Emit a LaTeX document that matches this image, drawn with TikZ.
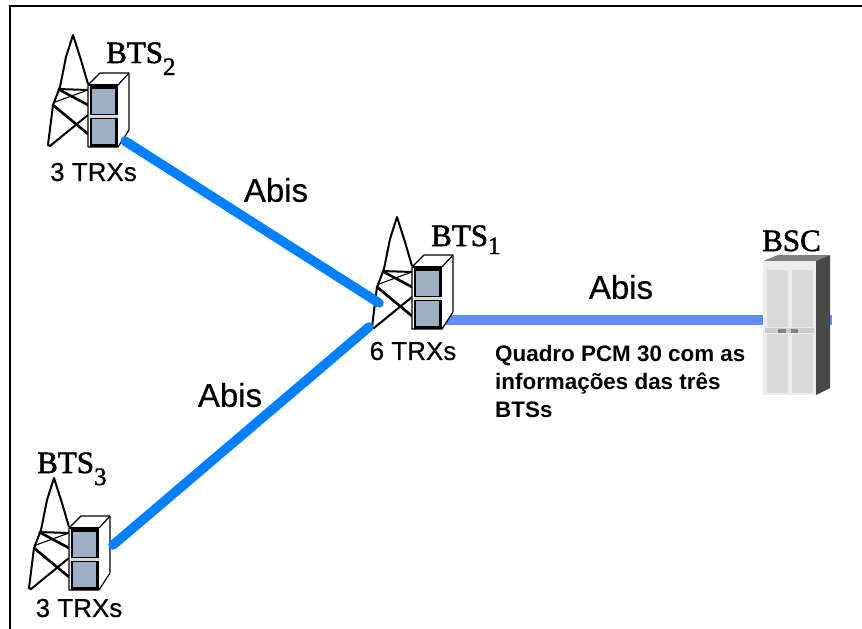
\documentclass[tikz,border=0pt]{standalone}
\usepackage{fontspec}
\setmainfont{Liberation Sans}
\newfontfamily\serifbts[FakeBold=1.6]{Liberation Serif}
\newfontfamily\sanssemi[FakeBold=0.4]{Liberation Sans}
\newcommand{\btssub}[2]{\raisebox{-#1pt}{\fontsize{25}{25}\selectfont #2}}
\definecolor{linkblue}{RGB}{0,128,255}
\definecolor{linkviolet}{RGB}{96,140,255}
\definecolor{panelgray}{RGB}{160,176,196}
\definecolor{bscface}{RGB}{236,236,236}
\definecolor{bscpanel}{RGB}{217,217,217}
\definecolor{bsctop}{RGB}{128,128,128}
\definecolor{bscside}{RGB}{72,72,72}
\tikzset{
  x=1pt,y=-1pt,
  link/.style={line width=9.5pt,color=linkblue,line cap=round},
  mainlink/.style={line width=10pt,color=linkviolet},
  towerline/.style={draw=black,line width=2pt,line join=round},
  towerthick/.style={draw=black,line width=2.6pt},
  towerthin/.style={draw=black,line width=1.1pt},
  cabinet/.style={draw=black,line width=1.2pt,fill=white,line join=round},
  panel/.style={fill=panelgray,draw=none},
  abis/.style={font=\sanssemi\fontsize{33}{34}\selectfont,inner sep=0pt},
  trx/.style={font=\sanssemi\fontsize{26}{28}\selectfont,inner sep=0pt},
  btslabel/.style={font=\serifbts\fontsize{31}{32}\selectfont,inner sep=0pt,anchor=base west},
  caption/.style={font=\fontsize{22.4}{28}\selectfont\bfseries,inner sep=0pt,align=left,anchor=base west},
  pics/bts/.style={code={
    \draw[towerline] (0,-63) -- (-7,-87) -- (-15,-112) -- (-22,-90) -- (-28,-60) -- (-35,-42) -- (-40,-2) -- (-38,-1) -- (0,-32);
    \draw[towerthick] (-30,-58) -- (0,-42);
    \draw[towerthick] (-35,-42) -- (0,-13);
    \draw[towerthin] (-33,-45) -- (0,-57);
    \draw[towerline] (-30,-58) -- (0,-57);
    \draw[cabinet] (0,0) -- (0,-62) -- (12,-74) -- (41,-74) -- (41,-17) -- (30,0) -- cycle;
    \draw[cabinet] (30,-62) -- (41,-74);
    \draw[cabinet,fill=none] (0,-62) -- (30,-62);
    \fill[black] (2,-62) rectangle (30,0);
    \fill[panel] (4,-58) rectangle (27,-33);
    \fill[panel] (4,-28) rectangle (27,-3);
    \fill[white!85!black] (2,-32) rectangle (30,-29.5);
  }}
}
\begin{document}
\begin{tikzpicture}
\useasboundingbox (0,0) rectangle (862,629);
\fill[white] (0,0) rectangle (862,629);
\draw[black,line width=2pt] (10,629) -- (10,6) -- (862,6);
% connector ends
\coordinate (bts2port) at (125,141);
\coordinate (bts3port) at (113,545);
\coordinate (bts1portA) at (379,303);
\coordinate (bts1portB) at (369,327);
\coordinate (bts1portC) at (445,320);
\coordinate (bscport) at (832,320);
\draw[mainlink] (bts1portC) -- (bscport);
% BSC
\fill[bsctop] (763,261) -- (778,255) -- (830,255) -- (816,261) -- cycle;
\fill[bscside] (816,261) -- (830,255) -- (830,388) -- (816,395) -- cycle;
\fill[bscface] (763,261) rectangle (816,395);
\fill[bscpanel] (767,270) rectangle (788,327);
\fill[bscpanel] (792,270) rectangle (813,327);
\fill[bscpanel] (767,334) rectangle (788,393);
\fill[bscpanel] (792,334) rectangle (813,393);
\fill[white!80!black] (765,328) rectangle (814,333);
\fill[gray] (778,329) rectangle (786,333);
\fill[gray] (791,329) rectangle (798,333);
\node[btslabel] (bsc) at (762,251) {BSC};
% BTSs
\pic at (88,147) {bts};
\pic at (412,329) {bts};
\pic at (69,590) {bts};
\draw[link] (bts2port) -- (bts1portA);
\draw[link] (bts3port) -- (bts1portB);
\node[btslabel] (bts2) at (106,63) {BTS\btssub{12}{2}};
\node[btslabel] (bts1) at (431,246) {BTS\btssub{8}{1}};
\node[btslabel] (bts3) at (37,473) {BTS\btssub{12}{3}};
\node[trx] (t2) at (93.5,172) {3 TRXs};
\node[trx] (t1) at (413,351) {6 TRXs};
\node[trx] (t3) at (79,608) {3 TRXs};
\node[abis] (a1) at (276,190) {Abis};
\node[abis] (a2) at (230,395) {Abis};
\node[abis] (a3) at (621,287) {Abis};
\node[caption] (cap1) at (495,361) {Quadro PCM 30 com as};
\node[caption] (cap2) at (495,389) {informações das três};
\node[caption] (cap3) at (495,417) {BTSs};
\end{tikzpicture}
\end{document}
